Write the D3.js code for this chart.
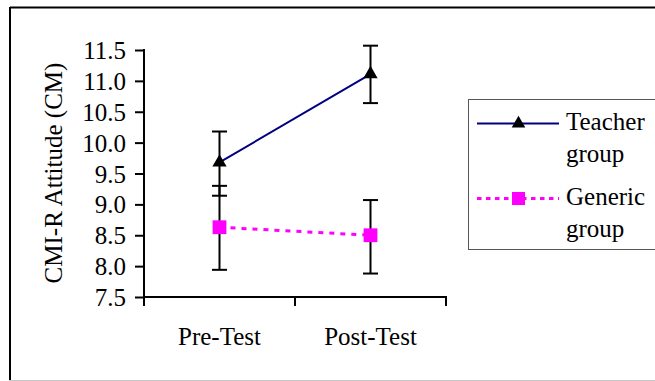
<!DOCTYPE html>
<html><head><meta charset="utf-8">
<script src="https://cdn.jsdelivr.net/npm/d3@7"></script>
<style>body{margin:0;background:#fff}svg{display:block}text{font-family:"Liberation Serif","Times New Roman",serif;fill:#000}</style>
</head><body><svg width="655" height="381"></svg>
<script>
const categories = ["Pre-Test", "Post-Test"];
const seriesNames = ["Teacher group", "Generic group"];
const teacherMean = [9.68, 11.11];
const teacherLow = [9.14, 10.64];
const teacherHigh = [10.18, 11.57];
const genericMean = [8.63, 8.50];
const genericLow = [7.94, 7.88];
const genericHigh = [9.30, 9.07];
const yTicks = [7.5, 8.0, 8.5, 9.0, 9.5, 10.0, 10.5, 11.0, 11.5];
const yTitle = "CMI-R Attitude (CM)";

const svg = d3.select("svg");
// outer frame
svg.append("line").attr("x1",10).attr("x2",655).attr("y1",7.5).attr("y2",7.5).attr("stroke","#000").attr("stroke-width",2);
svg.append("line").attr("x1",10).attr("x2",10).attr("y1",7).attr("y2",380).attr("stroke","#000").attr("stroke-width",2);
svg.append("line").attr("x1",9).attr("x2",655).attr("y1",380.5).attr("y2",380.5).attr("stroke","#c8c8c8").attr("stroke-width",1);

const x = d3.scaleBand().domain(categories).range([144, 446]);
const y = d3.scaleLinear().domain([7.5, 11.5]).range([297, 50]);
const cx = d => x(d) + x.bandwidth()/2;

// y axis
const ya = svg.append("g").attr("transform","translate(144,0)")
  .call(d3.axisLeft(y).tickValues(yTicks).tickFormat(d3.format(".1f")).tickSize(9).tickPadding(9));
ya.select(".domain").attr("stroke-width",2).attr("d","M0,49V297");
ya.selectAll(".tick line").attr("stroke-width",2);
ya.selectAll(".tick text").attr("font-size",25).attr("font-family","Liberation Serif").attr("dy","0.34em");

// x axis
const xa = svg.append("g").attr("transform","translate(0,297)");
xa.append("line").attr("x1",143).attr("x2",447).attr("y1",0).attr("y2",0).attr("stroke","#000").attr("stroke-width",2);
const bounds = [x(categories[0]), x(categories[1]), x(categories[1]) + x.bandwidth()];
xa.selectAll("line.t").data(bounds).join("line").attr("class","t")
  .attr("x1",d=>d).attr("x2",d=>d).attr("y1",0).attr("y2",9).attr("stroke","#000").attr("stroke-width",2);
xa.selectAll("text").data(categories).join("text")
  .attr("x",d=>cx(d)).attr("y",48).attr("text-anchor","middle").attr("font-size",25).text(d=>d);

// y title
svg.append("text").attr("transform","translate(62,173) rotate(-90)").attr("text-anchor","middle")
  .attr("font-size",25).text(yTitle);

const series = [
  {mean: teacherMean, low: teacherLow, high: teacherHigh, color:"#000080", dash:null, sym:d3.symbolTriangle, size:88, fill:"#000", w:2},
  {mean: genericMean, low: genericLow, high: genericHigh, color:"#ff00ff", dash:"5,6", sym:d3.symbolSquare, size:190, fill:"#ff00ff", w:3}
];

// error bars
series.forEach(s => {
  categories.forEach((c,i) => {
    const g = svg.append("g");
    g.append("line").attr("x1",cx(c)).attr("x2",cx(c)).attr("y1",y(s.low[i])).attr("y2",y(s.high[i])).attr("stroke","#000").attr("stroke-width",2);
    [s.low[i], s.high[i]].forEach(v => g.append("line").attr("x1",cx(c)-7.5).attr("x2",cx(c)+7.5).attr("y1",y(v)).attr("y2",y(v)).attr("stroke","#000").attr("stroke-width",2));
  });
});
// lines + markers
series.forEach(s => {
  const line = d3.line().x((d,i)=>cx(categories[i])).y(d=>y(d));
  svg.append("path").attr("d", line(s.mean)).attr("fill","none").attr("stroke",s.color).attr("stroke-width",s.w)
    .attr("stroke-dasharray",s.dash);
  svg.selectAll(null).data(s.mean).join("path")
    .attr("transform",(d,i)=>`translate(${cx(categories[i])},${y(d)})`)
    .attr("d", d3.symbol().type(s.sym).size(s.size)).attr("fill",s.fill);
});

// legend
const lg = svg.append("g");
lg.append("rect").attr("x",468.5).attr("y",99.5).attr("width",200).attr("height",150).attr("fill","#fff").attr("stroke","#555").attr("stroke-width",1);
const rows = [{y:123.5, t1:130, t2:162}, {y:198.5, t1:205, t2:237}];
series.forEach((s,i) => {
  const r = rows[i];
  lg.append("line").attr("x1",477).attr("x2",559).attr("y1",r.y).attr("y2",r.y).attr("stroke",s.color).attr("stroke-width",s.w)
    .attr("stroke-dasharray", s.dash ? "4.5,4.5" : null);
  lg.append("path").attr("transform",`translate(518.5,${r.y})`).attr("d",d3.symbol().type(s.sym).size(i===0?80:169)).attr("fill",s.fill);
  const words = seriesNames[i].split(" ");
  lg.append("text").attr("x",566).attr("y",r.t1).attr("font-size",25).text(words[0]);
  lg.append("text").attr("x",566).attr("y",r.t2).attr("font-size",25).text(words[1]);
});
</script></body></html>
